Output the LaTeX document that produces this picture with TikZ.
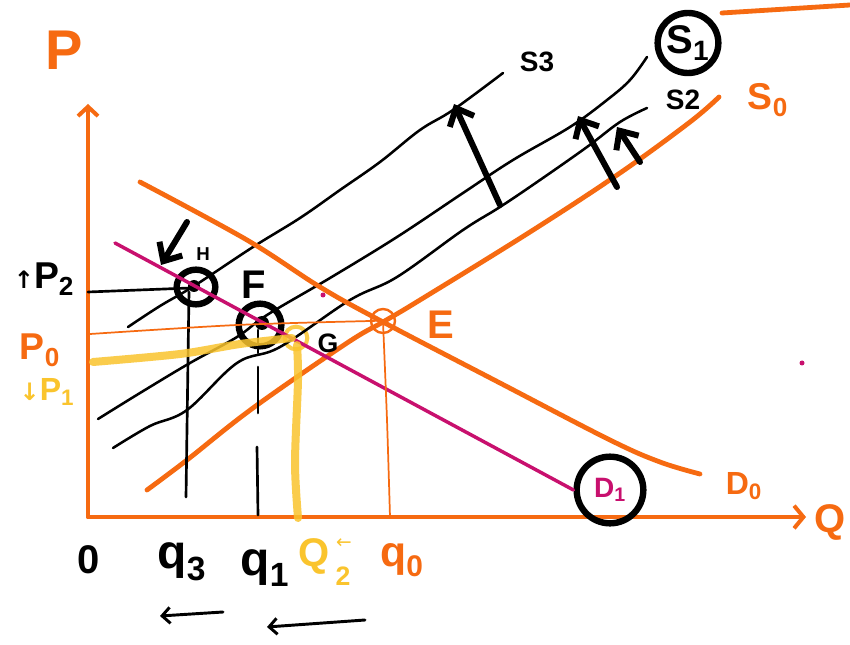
\documentclass[tikz,border=0pt]{standalone}
\usepackage{fontspec}
\setmainfont{Liberation Sans}
\newfontfamily\arrowfont{DejaVu Sans}
\usetikzlibrary{arrows.meta,shapes.geometric}
\definecolor{orng}{RGB}{246,106,17}
\definecolor{mag}{RGB}{200,16,110}
\definecolor{yel}{RGB}{250,196,45}
\newcommand\fsz[1]{\fontsize{#1}{#1}\selectfont}
\begin{document}
\begin{tikzpicture}[x=0.75pt,y=-0.75pt,line cap=round,line join=round,
  axisl/.style={draw=orng,line width=3pt},
  sline/.style={draw=black,line width=1.9pt},
  oline/.style={draw=orng,line width=3.6pt},
  thino/.style={draw=orng,line width=1.3pt},
  magl/.style={draw=mag,line width=2.6pt},
  yell/.style={draw=yel,line width=6pt,opacity=0.85},
  vline/.style={draw=black,line width=2pt},
  ring/.style={draw=black,line width=4.8pt,ellipse,inner sep=0pt},
  bigarrow/.style={draw=black,line width=4.5pt,-{Straight Barb[length=11pt,width=20pt]}},
  smallarrow/.style={draw=black,line width=2.2pt,-{Straight Barb[length=6pt,width=12pt]}},
  lbl/.style={inner sep=0pt,font=\bfseries},
]
\useasboundingbox[fill=white] (0,0) rectangle (850,645);

% axes
\coordinate (O) at (88,517);
\coordinate (Ytop) at (88,104);
\coordinate (Xend) at (806,517);
\draw[axisl,-{Straight Barb[length=7pt,width=15pt]}] (O) -- (Ytop);
\draw[axisl,-{Straight Barb[length=7pt,width=17pt]}] (O) -- (Xend);
\node[lbl,text=orng,font=\bfseries\fsz{42}] (Plab) at (64,50) {P};
\node[lbl,text=orng,font=\bfseries\fsz{30}] (Qlab) at (830,522) {Q};

% circles (points)
\node[ring,minimum width=29pt,minimum height=26pt] (H) at (196,287) {};
\node[ring,minimum width=32pt,minimum height=32pt] (F) at (260,325) {};
\node[draw=yel,line width=3pt,opacity=0.85,circle,minimum size=17pt,inner sep=0pt] (G) at (296,338) {};
\node[draw=orng,line width=1.8pt,circle,minimum size=18pt,inner sep=0pt] (E) at (383,321) {};
\node[ring,minimum width=45pt,minimum height=45pt,font=\bfseries\fsz{30}] (S1) at (688,43) {S\textsubscript{1}};
\node[ring,minimum width=50pt,minimum height=50pt,text=mag,font=\bfseries\fsz{21}] (D1) at (610,490) {D\textsubscript{1}};
\fill (194,286) circle (6);
\fill (262,323) circle (7);

% supply curves
\coordinate (s3a) at (128,327);
\coordinate (s3b) at (503,73);
\draw[sline] plot[smooth,tension=0.6] coordinates {(128,327) (160,306) (194,286) (253,247) (300,218) (340,190) (380,162) (420,130) (453,110) (503,73)};
\coordinate (s1a) at (98,419);
\coordinate (s1b) at (647,57);
\draw[sline] plot[smooth,tension=0.6] coordinates {(98,419) (140,393) (190,363) (237,337) (267,315) (330,278) (397,237) (463,193) (513,160) (570,127) (607,100) (630,80) (647,57)};
\coordinate (s2a) at (113,448);
\coordinate (s2b) at (647,108);
\draw[sline] plot[smooth,tension=0.6] coordinates {(113,448) (150,426) (187,410) (237,363) (280,347) (350,300) (397,277) (463,230) (500,207) (540,180) (587,147) (620,122) (647,108)};
\coordinate (s0a) at (147,490);
\coordinate (s0b) at (719,97);
\draw[oline] plot[smooth,tension=0.6] coordinates {(147,490) (187,460) (253,408) (347,343) (383,322) (420,300) (530,232) (620,173) (690,122) (719,97)};

% demand curves
\coordinate (d0a) at (140,182);
\coordinate (d0b) at (700,474);
\draw[oline] plot[smooth,tension=0.6] coordinates {(140,182) (247,240) (320,287) (383,322) (500,383) (610,440) (660,462) (700,474)};
\coordinate (d1a) at (115,243);
\draw[magl] (d1a) -- (D1.west);

% price and quantity guides
\coordinate (p2) at (88,292);
\draw[vline] (p2) -- (190,288);
\coordinate (Hbot) at (186,497);
\draw[vline] (189,292) -- (Hbot);
\draw[vline] (258,330) -- (258,353);
\draw[vline] (258,367) -- (258,413);
\draw[vline] (257,447) -- (258,515);
\coordinate (p0) at (90,334);
\draw[thino] plot[smooth] coordinates {(p0) (237,325) (370,321) (383,321)};
\draw[thino] plot[smooth] coordinates {(383,322) (387,420) (390,517)};
\coordinate (p1) at (93,362);
\draw[yell] plot[smooth] coordinates {(p1) (180,354) (240,344) (292,338)};
\draw[yell] plot[smooth] coordinates {(297,345) (298,380) (295,463) (298,518)};

% shift arrows
\draw[bigarrow] (500,205) -- (454,104);
\draw[bigarrow] (617,187) -- (578,116);
\draw[bigarrow] (640,162) -- (617,127);
\draw[bigarrow] (187,222) -- (161,265);

% stray strokes
\draw[oline] (722,13) -- (850,5);
\fill[mag] (323,295) circle (2.5);
\fill[mag] (802,363) circle (2.5);

% labels
\node[lbl,font=\bfseries\fsz{21}] (S3lab) at (537,62) {S3};
\node[lbl,font=\bfseries\fsz{21}] (S2lab) at (683,100) {S2};
\node[lbl,text=orng,font=\bfseries\fsz{28}] (S0lab) at (768,100) {S\textsubscript{0}};
\node[lbl,text=orng,font=\bfseries\fsz{24}] (D0lab) at (744,486) {D\textsubscript{0}};
\node[lbl,font=\bfseries\fsz{14}] (Hlab) at (203,254) {H};
\node[lbl,font=\bfseries\fsz{30}] (Flab) at (254,285) {F};
\node[lbl,font=\bfseries\fsz{20}] (Glab) at (328,343) {G};
\node[lbl,text=orng,font=\bfseries\fsz{30}] (Elab) at (441,325) {E};

\node[lbl,font=\bfseries\fsz{28}] (P2lab) at (44,279) {{\arrowfont\fsz{18}↑}P\textsubscript{2}};
\node[lbl,text=orng,font=\bfseries\fsz{28}] (P0lab) at (40,350) {P\textsubscript{0}};
\node[lbl,text=yel,font=\bfseries\fsz{24}] (P1lab) at (47,392) {{\arrowfont\fsz{18}↓}P\textsubscript{1}};

\node[lbl,font=\bfseries\fsz{30}] (zero) at (89,560) {0};
\node[lbl,font=\bfseries\fsz{36}] (q3lab) at (182,562) {q\textsubscript{3}};
\node[lbl,font=\bfseries\fsz{36}] (q1lab) at (265,568) {q\textsubscript{1}};
\node[lbl,text=yel,font=\bfseries\fsz{30}] (Q2lab) at (314,556) {Q};
\node[lbl,text=yel,font=\arrowfont\fsz{14}] (Q2arr) at (344,544) {←};
\node[lbl,text=yel,font=\bfseries\fsz{20}] (Q2num) at (343,576) {2};
\node[lbl,text=orng,font=\bfseries\fsz{32}] (q0lab) at (402,560) {q\textsubscript{0}};

\coordinate (a1s) at (223,612);
\coordinate (a1e) at (160,616);
\draw[smallarrow] (a1s) -- (a1e);
\coordinate (a2s) at (365,620);
\coordinate (a2e) at (267,627);
\draw[smallarrow] (a2s) -- (a2e);
\end{tikzpicture}
\end{document}
